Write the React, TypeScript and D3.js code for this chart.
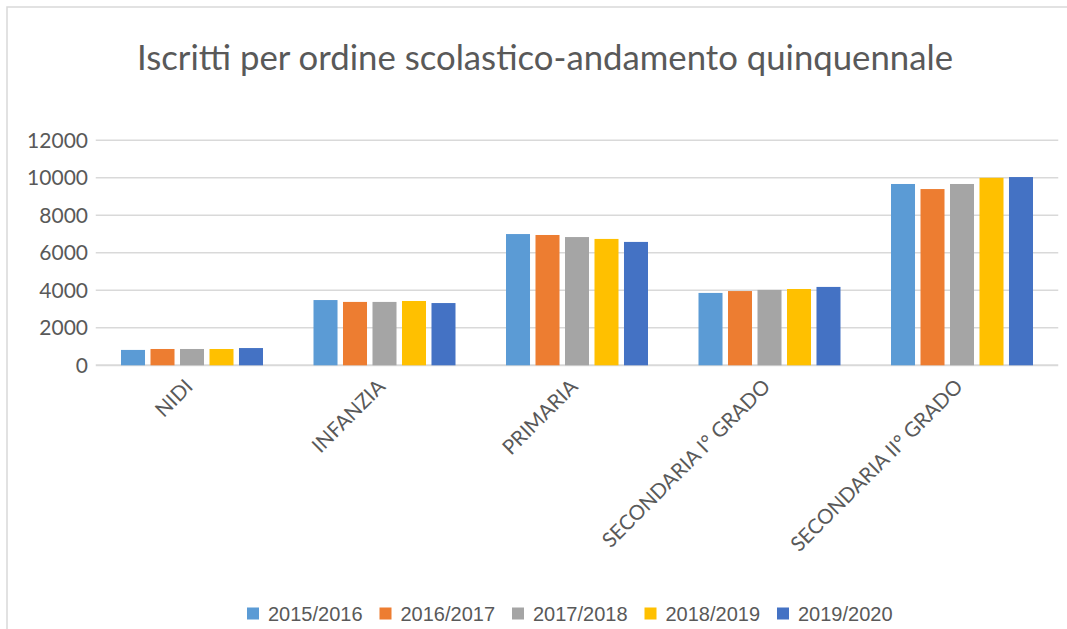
import React from 'react'
import { scaleLinear, scaleBand } from 'd3'

const categories = ['NIDI', 'INFANZIA', 'PRIMARIA', 'SECONDARIA I° GRADO', 'SECONDARIA II° GRADO']
const seriesNames = ['2015/2016', '2016/2017', '2017/2018', '2018/2019', '2019/2020']
const s2015 = [820, 3480, 7000, 3860, 9670]
const s2016 = [870, 3380, 6950, 3960, 9400]
const s2017 = [870, 3380, 6840, 4020, 9670]
const s2018 = [870, 3430, 6740, 4070, 10000]
const s2019 = [920, 3320, 6580, 4180, 10040]
const yTicks = [0, 2000, 4000, 6000, 8000, 10000, 12000]
const title = 'Iscritti per ordine scolastico-andamento quinquennale'

const seriesValues = [s2015, s2016, s2017, s2018, s2019]
const colors = ['#5B9BD5', '#ED7D31', '#A5A5A5', '#FFC000', '#4472C4']

const App = () => {
    const width = 1067
    const height = 629
    const left = 95.75
    const right = 1058.25
    const top = 140.3
    const bottom = 365.3
    const textColor = '#595959'
    const font = 'Lato, "Open Sans", sans-serif'

    const yscale = scaleLinear().domain([0, 12000]).range([bottom, top])
    const xscale = scaleBand().domain(categories).range([left, right])
    const inner = scaleBand().domain(seriesNames)
        .range([0, xscale.bandwidth()])
        .paddingInner(0.186)
        .paddingOuter(0.856)

    const gridLines = yTicks.map(t => (
        <g key={t}>
            <line x1={left} x2={right} y1={yscale(t)} y2={yscale(t)}
                stroke='#d9d9d9' strokeWidth={t === 0 ? 2 : 1.5} />
            <text x={88} y={yscale(t)} dy='0.36em' textAnchor='end'
                fontSize={21} fill={textColor} fontFamily={font}>{t}</text>
        </g>
    ))

    const bars = seriesValues.map((vals, si) =>
        vals.map((v, ci) => (
            <rect key={`${si}-${ci}`}
                x={xscale(categories[ci])! + inner(seriesNames[si])!}
                y={yscale(v)}
                width={inner.bandwidth()}
                height={bottom - yscale(v)}
                fill={colors[si]} />
        ))
    )

    const labels = categories.map(c => {
        const cx = xscale(c)! + xscale.bandwidth() / 2 + 2
        const cy = 388
        return (
            <text key={c} x={cx} y={cy} textAnchor='end'
                transform={`rotate(-45, ${cx}, ${cy})`}
                fontSize={20.5} fill={textColor} fontFamily={font}>{c}</text>
        )
    })

    // legend sits centred under the plot
    const legendX = scaleBand().domain(seriesNames).range([247, 909.5])
    const legend = seriesNames.map((s, i) => (
        <g key={s}>
            <rect x={legendX(s)} y={607.5} width={12} height={12} fill={colors[i]} />
            <text x={legendX(s)! + 21} y={620.5} fontSize={20} fill={textColor}
                fontFamily='"Liberation Sans", Arial, sans-serif'>{s}</text>
        </g>
    ))

    return (
        <svg width={width} height={height} viewBox={`0 0 ${width} ${height}`}
            style={{ position: 'absolute', left: 0, top: 0, background: '#fff' }}>
            <rect x={7} y={7} width={width + 10} height={height + 10} fill='#fff'
                stroke='#d9d9d9' strokeWidth={1.5} />
            <text x={545} y={70} textAnchor='middle' fontSize={34} fill={textColor}
                fontFamily={font} textLength={816} lengthAdjust='spacingAndGlyphs'>{title}</text>
            {gridLines}
            {bars}
            {labels}
            {legend}
        </svg>
    )
}

export default App
